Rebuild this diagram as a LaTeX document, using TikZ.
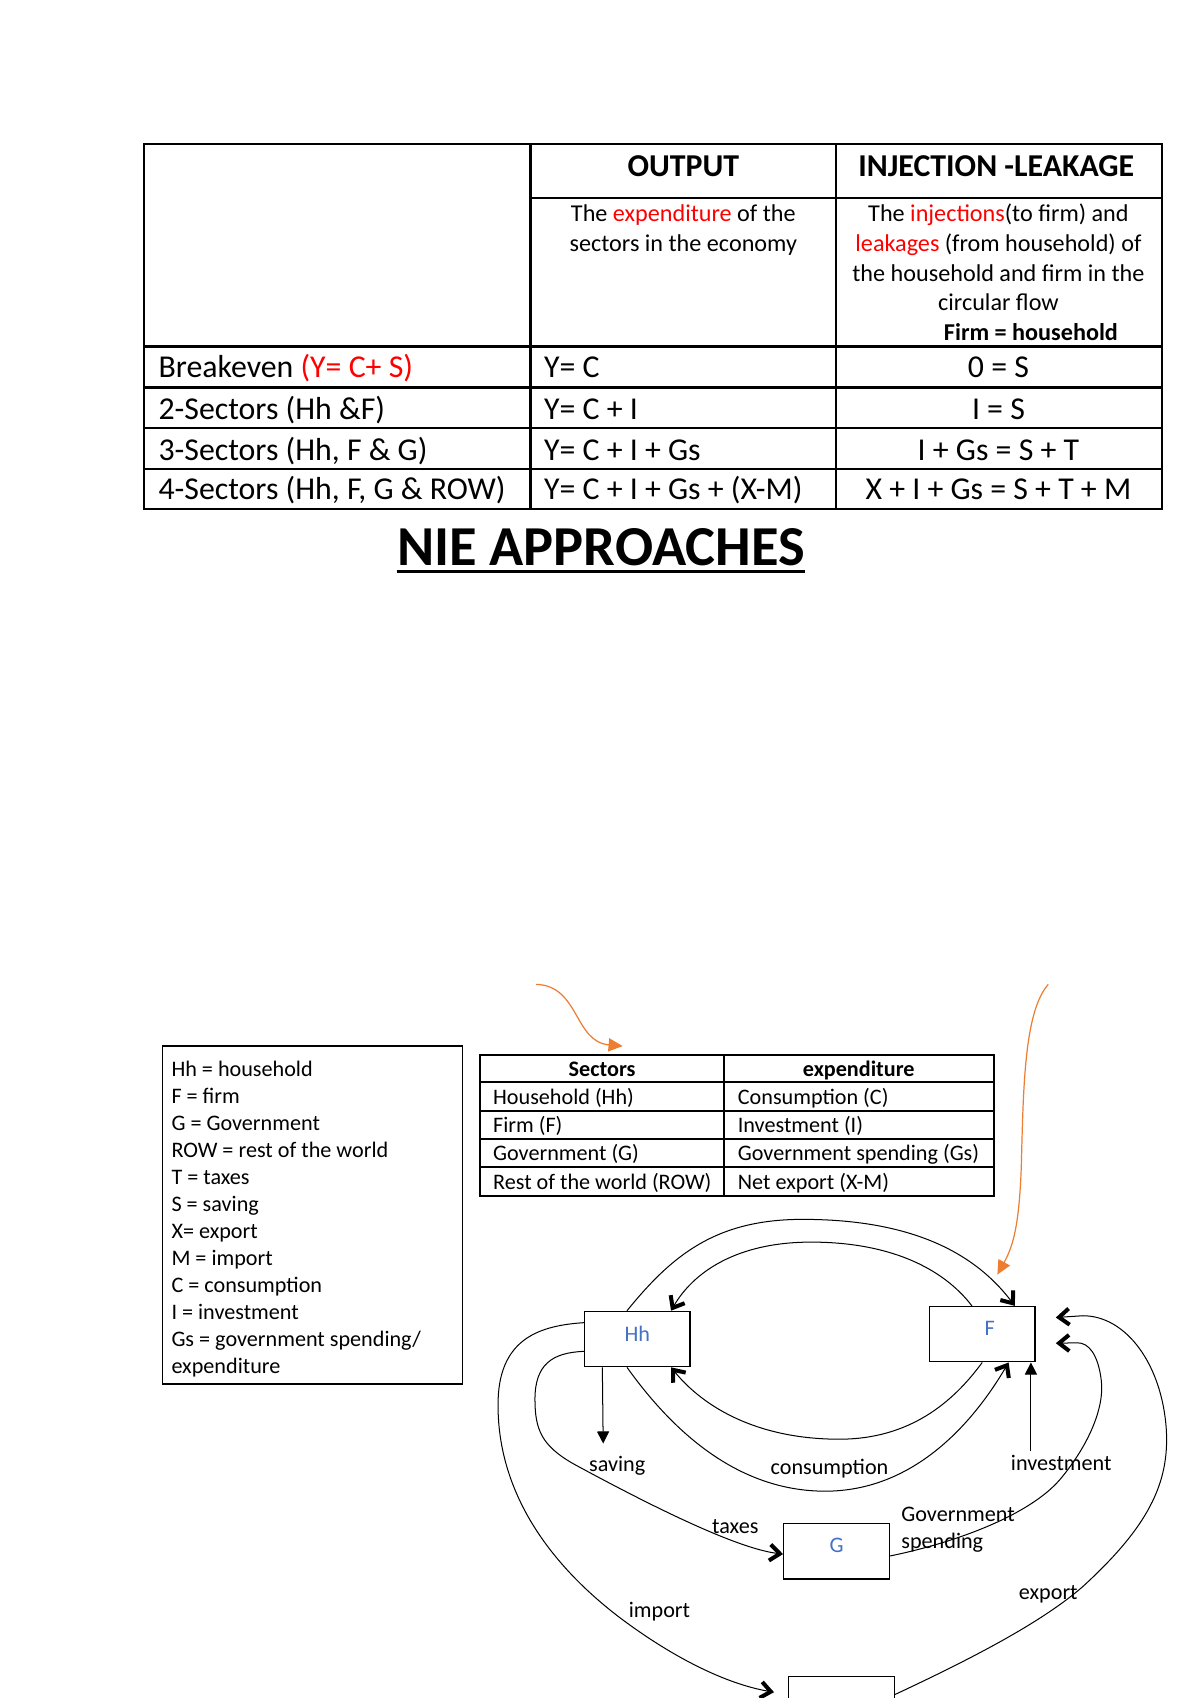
\documentclass[tikz,border=0pt]{standalone}
\usepackage{fontspec}
\setmainfont{Carlito}
\usetikzlibrary{arrows.meta}

\definecolor{leakred}{RGB}{255,0,0}
\definecolor{sectorblue}{RGB}{68,114,196}
\definecolor{noteorange}{RGB}{237,125,49}
\newcommand{\redtxt}[1]{\textcolor{leakred}{#1}}

\begin{document}
\begin{tikzpicture}[x=0.5374pt, y=-0.5374pt,
    tablerule/.style={line width=1.2pt},
    keyrule/.style={line width=1pt},
    rowtxt/.style={font=\fontsize{15.8}{18}\selectfont, inner sep=0pt},
    headtxt/.style={font=\fontsize{15.8}{18}\selectfont\bfseries, inner sep=0pt},
    desctxt/.style={font=\fontsize{12}{14}\selectfont, inner sep=0pt},
    descbold/.style={font=\fontsize{12}{14}\selectfont\bfseries, inner sep=0pt},
    smalltxt/.style={font=\fontsize{11}{13}\selectfont, inner sep=0pt},
    smallbold/.style={font=\fontsize{11}{13}\selectfont\bfseries, inner sep=0pt},
    sectorbox/.style={draw, line width=0.7pt, minimum width=52.4pt, minimum height=27.4pt,
        text=sectorblue, font=\fontsize{11}{13}\selectfont, text depth=5.5pt},
    flowarrow/.style={line width=0.5pt, -{Straight Barb[length=5pt,width=8pt,line width=2pt]}},
    leakarrow/.style={line width=0.5pt, -{Triangle[length=6pt,width=6pt]}},
    notearrow/.style={noteorange, line width=0.6pt, -{Triangle[length=7pt,width=6.5pt]}}]

    % page
    \fill[white] (0,0) rectangle (1108,1568);
    \clip (0,0) rectangle (1108,1568);

    % table of the approaches
    \draw[tablerule] (133,133) rectangle (1073,470);
    \draw[tablerule] (490,133) -- (490,470);
    \draw[tablerule] (772,133) -- (772,470);
    \draw[tablerule] (490,183) -- (1073,183);
    \foreach \y in {320,358,395,433}
        \draw[tablerule] (133,\y) -- (1073,\y);

    \node[headtxt, anchor=base] (output) at (631,163) {OUTPUT};
    \node[headtxt, anchor=base] (injection) at (920,163) {INJECTION -LEAKAGE};

    % column descriptions
    \node[desctxt, anchor=base] (outdesc1) at (631,205) {The \redtxt{expenditure} of the};
    \node[desctxt, anchor=base] (outdesc2) at (631,232) {sectors in the economy};
    \node[desctxt, anchor=base] (injdesc1) at (922,205) {The \redtxt{injections}(to firm) and};
    \node[desctxt, anchor=base] (injdesc2) at (922,232) {\redtxt{leakages} (from household) of};
    \node[desctxt, anchor=base] (injdesc3) at (922,260) {the household and firm in the};
    \node[desctxt, anchor=base] (injdesc4) at (922,287) {circular flow};
    \node[descbold, anchor=base] (injdesc5) at (952,314) {Firm = household};

    % rows
    \foreach \y/\lab/\out/\inj [count=\i] in {
        349/{Breakeven \redtxt{(Y= C+ S)}}/{Y= C}/{0 = S},
        387/{2-Sectors (Hh \&F)}/{Y= C + I}/{I = S},
        425/{3-Sectors (Hh, F \& G)}/{Y= C + I + Gs}/{I + Gs = S + T},
        461/{4-Sectors (Hh, F, G \& ROW)}/{Y= C + I + Gs + (X-M)}/{X + I + Gs = S + T + M}}{
        \node[rowtxt, anchor=base west] (sector\i) at (146,\y) {\lab};
        \node[rowtxt, anchor=base west] (output\i) at (502,\y) {\out};
        \node[rowtxt, anchor=base] (balance\i) at (922,\y) {\inj};
    }

    % title
    \node[font=\fontsize{28}{32}\selectfont\bfseries, inner sep=0pt, anchor=base] (title) at (555,522) {NIE APPROACHES};
    \draw[line width=1.6pt] ([yshift=-3.2pt]title.base west) -- ([yshift=-3.2pt]title.base east);

    % key of the letters
    \draw[line width=0.7pt] (150,966) rectangle (427,1278);
    \foreach \txt [count=\i from 0] in {Hh = household, F = firm, G = Government,
        ROW = rest of the world, T = taxes, S = saving, X= export, M = import,
        C = consumption, I = investment, Gs = government spending/, expenditure}
        \node[smalltxt, anchor=base west] (key\i) at (158,994+24.9*\i) {\txt};

    % sectors and their expenditure
    \draw[keyrule] (443,974) rectangle (918,1104);
    \draw[keyrule] (669,974) -- (669,1104);
    \foreach \y in {999,1026,1052,1078}
        \draw[keyrule] (443,\y) -- (918,\y);
    \node[smallbold, anchor=base] (sectorhead) at (556,994) {Sectors};
    \node[smallbold, anchor=base] (spendhead) at (793,994) {expenditure};
    \foreach \y/\sec/\spend [count=\i] in {1020/Household (Hh)/Consumption (C),
        1046/Firm (F)/Investment (I), 1072/Government (G)/Government spending (Gs),
        1098/Rest of the world (ROW)/Net export (X-M)}{
        \node[smalltxt, anchor=base west] (sec\i) at (455,\y) {\sec};
        \node[smalltxt, anchor=base west] (spend\i) at (681,\y) {\spend};
    }

    % orange notes
    \coordinate (sectorsNote) at (495,909);
    \coordinate (sectorsTip) at (575,966);
    \coordinate (firmNote) at (968,909);
    \coordinate (firmTip) at (921,1177);
    \draw[notearrow] (sectorsNote) .. controls (535,910) and (530,962) .. (sectorsTip);
    \draw[notearrow] (firmNote) .. controls (945,935) and (945,1010) .. (943,1080)
        .. controls (941,1130) and (936,1150) .. (firmTip);

    % circular flow
    \node[sectorbox] (Hh) at (588.5,1236.5) {Hh};
    \node[sectorbox] (F) at (907,1232) {\hspace*{7.5pt}F};
    \node[sectorbox] (G) at (772.5,1432.5) {G};
    \node[sectorbox] (ROW) at (777,1573.5) {};

    % Hh and F
    \draw[flowarrow] (Hh.110) .. controls (620,1160) and (660,1126) .. (741,1126)
        .. controls (830,1126) and (895,1150) .. (F.41);
    \draw[flowarrow] (F.110) .. controls (870,1170) and (820,1147) .. (749,1147)
        .. controls (680,1147) and (640,1175) .. (Hh.40);
    \draw[flowarrow] (F.-90) .. controls (880,1295) and (840,1329) .. (775,1329)
        .. controls (700,1329) and (650,1300) .. (Hh.-40);
    \draw[flowarrow] (Hh.-110) .. controls (620,1320) and (680,1377) .. (762,1377)
        .. controls (840,1377) and (895,1320) .. (F.-47);
    \node[smalltxt] (consLbl) at (766,1356) {consumption};

    % leakage and injection
    \coordinate (savingEnd) at (557,1333);
    \draw[leakarrow] (Hh.-141) -- (savingEnd);
    \node[smalltxt] (savingLbl) at (570,1354) {saving};

    \coordinate (investStart) at (952,1340);
    \draw[leakarrow] (investStart) -- (investStart |- F.south);
    \node[smalltxt] (investLbl) at (980,1351) {investment};

    % government
    \draw[flowarrow] (Hh.-167) .. controls (510,1249) and (494,1260) .. (494,1292)
        .. controls (494,1320) and (500,1335) .. (530,1352)
        .. controls (600,1390) and (680,1430) .. (G.-177);
    \node[smalltxt] (taxesLbl) at (679,1410) {taxes};

    \draw[flowarrow, shorten >=10pt] (G.-5) .. controls (880,1425) and (950,1400) .. (979,1366)
        .. controls (1005,1335) and (1020,1300) .. (1017,1275)
        .. controls (1014,1250) and (1005,1240) .. (995,1240) -- (F.-10);
    \node[smalltxt, anchor=west] (gsLbl1) at (832,1398) {Government};
    \node[smalltxt, anchor=west] (gsLbl2) at (832,1425) {spending};

    % rest of the world
    \draw[flowarrow, shorten >=7pt] (Hh.163) .. controls (500,1224) and (462,1235) .. (460,1292)
        .. controls (458,1360) and (490,1430) .. (570,1492)
        .. controls (620,1530) and (670,1555) .. (ROW.170);
    \node[smalltxt] (importLbl) at (609,1488) {import};

    \draw[flowarrow, shorten >=10pt] (ROW.10) .. controls (890,1535) and (960,1500) .. (1000,1465)
        .. controls (1060,1410) and (1080,1370) .. (1077,1320)
        .. controls (1073,1260) and (1040,1215) .. (1000,1215) -- (F.16);
    \node[smalltxt] (exportLbl) at (968,1472) {export};

\end{tikzpicture}
\end{document}
